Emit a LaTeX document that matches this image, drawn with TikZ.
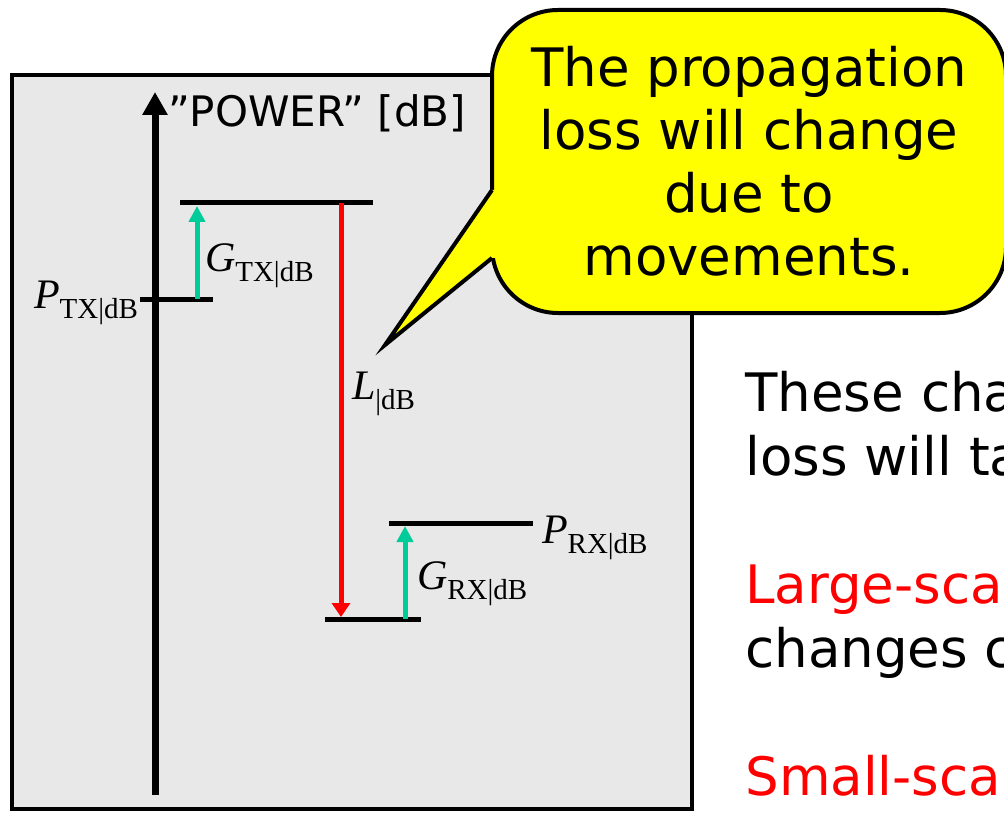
\documentclass[tikz,border=0pt]{standalone}
\usepackage{fontspec}
\setmainfont{DejaVu Sans}
\newfontfamily\serifmath{Liberation Serif}
\usepackage{xcolor}
\usepackage{tikz}
\usetikzlibrary{arrows.meta,positioning}
\definecolor{boxgrey}{RGB}{232,232,232}
\definecolor{gaingreen}{RGB}{0,204,153}
\definecolor{notefill}{RGB}{255,255,0}
\newcommand{\dblabel}[2]{{\serifmath\fontsize{21}{23}\selectfont\itshape #1}\raisebox{-5pt}{\serifmath\fontsize{14.5}{16}\selectfont #2}}
\tikzset{
  level/.style={line width=2.5pt,draw=black},
  gainarr/.style={-{Triangle[length=8pt,width=8pt]},line width=2.5pt,draw=gaingreen},
  lossarr/.style={-{Triangle[length=7pt,width=9pt]},line width=2.5pt,draw=red},
  axisarr/.style={-{Triangle[length=11.5pt,width=12pt]},line width=3.5pt,draw=black},
  lbl/.style={anchor=base west,inner sep=0pt,outer sep=0pt},
  bubble/.style={draw=black,fill=notefill,line width=2pt,rounded corners=33pt,
                 minimum width=257pt,minimum height=151.5pt,align=center,
                 font=\fontsize{26.5}{31.5}\selectfont,inner sep=0pt},
  sidetext/.style={anchor=base west,inner sep=0pt,align=left,
                   font=\fontsize{26.5}{32}\selectfont},
}

\begin{document}
\begin{tikzpicture}[x=0.5pt,y=-0.5pt]
  \useasboundingbox (0,0) rectangle (1004,812);
  \draw[line width=2.2pt,fill=boxgrey] (12,75) rectangle (692,809);

  % axis
  \coordinate (ax0) at (155,795);
  \coordinate (ax1) at (155,92);
  \draw[axisarr] (ax0) -- (ax1);
  \node[lbl,font=\fontsize{21}{25}\selectfont] (axlbl) at (168,127) {”POWER” [dB]};

  % levels
  \coordinate (ptxL) at (140,299);  \coordinate (ptxR) at (213,299);
  \coordinate (topL) at (180,203);  \coordinate (topR) at (373,203);
  \coordinate (prxL) at (389,523);  \coordinate (prxR) at (533,523);
  \coordinate (botL) at (325,619);  \coordinate (botR) at (421,619);
  \foreach \a/\b in {ptxL/ptxR,topL/topR,prxL/prxR,botL/botR}
    \draw[level] (\a) -- (\b);

  % gains and loss
  \coordinate (gtx0) at (197,299);  \coordinate (gtx1) at (197,206);
  \coordinate (grx0) at (405,619);  \coordinate (grx1) at (405,526);
  \coordinate (loss0) at (341,203); \coordinate (loss1) at (341,617);
  \draw[gainarr] (gtx0) -- (gtx1);
  \draw[gainarr] (grx0) -- (grx1);
  \draw[lossarr] (loss0) -- (loss1);

  \node[lbl,anchor=base east] (ptxlbl) at (138,308) {\dblabel{P}{TX|dB}};
  \node[lbl] (gtxlbl) at (205,271) {\dblabel{G}{TX|dB}};
  \node[lbl] (losslbl) at (352,399) {\dblabel{L}{|dB}};
  \node[lbl] (prxlbl) at (542,543) {\dblabel{P}{RX|dB}};
  \node[lbl] (grxlbl) at (417,589) {\dblabel{G}{RX|dB}};

  % callout
  \node[bubble] (note) at (749,161.5) {The propagation\\loss will change\\due to\\movements.};
  \coordinate (tip) at (385,345);
  \coordinate (pu) at (492,190);
  \coordinate (pd) at (492,258);
  \fill[notefill] (497,190) -- (pu) -- (tip) -- (pd) -- (497,258) -- cycle;
  \draw[line width=2pt,line join=miter] (pu) -- (tip) -- (pd);

  \node[sidetext] (side) at (745,795) {These cha\\loss will ta\\[32pt]
    \textcolor{red}{Large-sca}\\changes c\\[32pt]\textcolor{red}{Small-sca}};
\end{tikzpicture}
\end{document}
